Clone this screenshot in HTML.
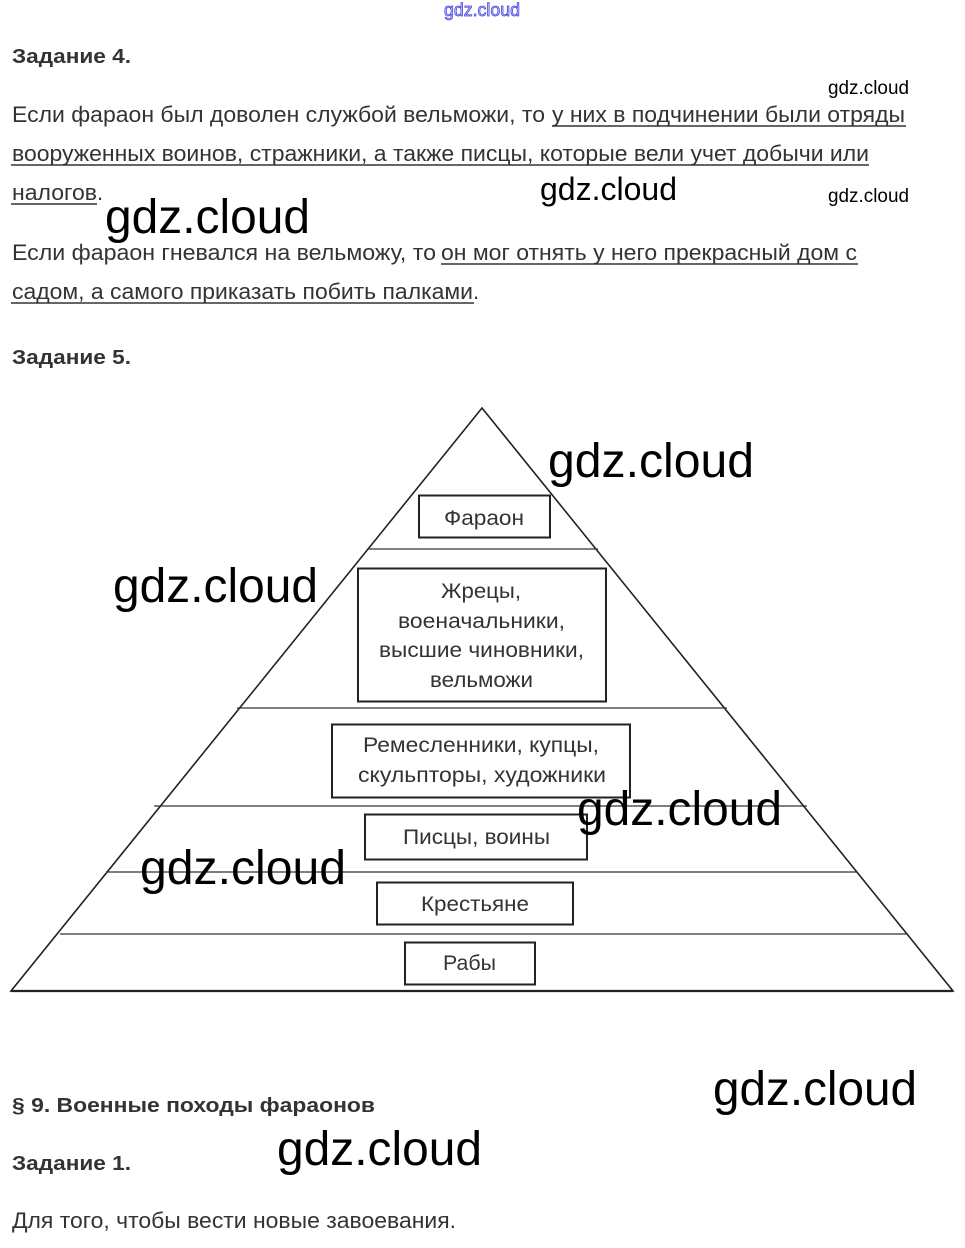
<!DOCTYPE html>
<html>
<head>
<meta charset="utf-8">
<style>
  html,body{margin:0;padding:0;background:#fff;}
  svg{display:block;}
  .t{font-family:"Liberation Sans",Arial,sans-serif;fill:#333;}
  .b{font-weight:bold;}
  .w{font-family:"Liberation Sans",Arial,sans-serif;fill:#000;}
</style>
</head>
<body>
<svg width="965" height="1248" viewBox="0 0 965 1248" xmlns="http://www.w3.org/2000/svg">
  <rect width="965" height="1248" fill="#fff"/>

  <!-- top blue watermark -->
  <text x="444" y="16" font-size="18" textLength="76" lengthAdjust="spacingAndGlyphs" font-family="Liberation Sans, Arial, sans-serif" fill="#c8c8ff" stroke="#4a4ae0" stroke-width="0.8">gdz.cloud</text>

  <!-- Задание 4 -->
  <text class="t b" x="12" y="63" font-size="20" textLength="119" lengthAdjust="spacingAndGlyphs">Задание 4.</text>

  <!-- paragraph 1 -->
  <text class="t" x="12" y="122" font-size="22" textLength="533" lengthAdjust="spacingAndGlyphs">Если фараон был доволен службой вельможи, то</text>
  <text class="t" x="552" y="122" font-size="22" textLength="353" lengthAdjust="spacingAndGlyphs">у них в подчинении были отряды</text>
  <line x1="552" y1="126" x2="906" y2="126" stroke="#333" stroke-width="1.6"/>

  <text class="t" x="12" y="161" font-size="22" textLength="857" lengthAdjust="spacingAndGlyphs">вооруженных воинов, стражники, а также писцы, которые вели учет добычи или</text>
  <line x1="11" y1="165" x2="869" y2="165" stroke="#333" stroke-width="1.6"/>

  <text class="t" x="12" y="200" font-size="22" textLength="85" lengthAdjust="spacingAndGlyphs">налогов</text>
  <text class="t" x="97" y="200" font-size="22">.</text>
  <line x1="11" y1="204" x2="97" y2="204" stroke="#333" stroke-width="1.6"/>

  <!-- paragraph 2 -->
  <text class="t" x="12" y="260" font-size="22" textLength="424" lengthAdjust="spacingAndGlyphs">Если фараон гневался на вельможу, то</text>
  <text class="t" x="441" y="260" font-size="22" textLength="416" lengthAdjust="spacingAndGlyphs">он мог отнять у него прекрасный дом с</text>
  <line x1="441" y1="264" x2="858" y2="264" stroke="#333" stroke-width="1.6"/>

  <text class="t" x="12" y="299" font-size="22" textLength="461" lengthAdjust="spacingAndGlyphs">садом, а самого приказать побить палками</text>
  <text class="t" x="473" y="299" font-size="22">.</text>
  <line x1="11" y1="303" x2="474" y2="303" stroke="#333" stroke-width="1.6"/>

  <!-- Задание 5 -->
  <text class="t b" x="12" y="364" font-size="20" textLength="119" lengthAdjust="spacingAndGlyphs">Задание 5.</text>

  <!-- pyramid -->
  <polygon points="482,408 11,991 953,991" fill="none" stroke="#222" stroke-width="1.6"/>
  <line x1="11" y1="991" x2="953" y2="991" stroke="#222" stroke-width="2.2"/>
  <g stroke="#333" stroke-width="1.2">
    <line x1="368" y1="549" x2="598" y2="549"/>
    <line x1="237" y1="708" x2="727" y2="708"/>
    <line x1="154" y1="806" x2="807" y2="806"/>
    <line x1="106" y1="872" x2="857" y2="872"/>
    <line x1="60" y1="934" x2="908" y2="934"/>
  </g>

  <!-- boxes -->
  <g fill="#fff" stroke="#222" stroke-width="2">
    <rect x="419" y="495.5" width="131" height="42"/>
    <rect x="358" y="568.5" width="248" height="133"/>
    <rect x="332" y="724.5" width="298" height="73"/>
    <rect x="365" y="814.5" width="222" height="45"/>
    <rect x="377" y="882.5" width="196" height="42"/>
    <rect x="405" y="942.5" width="130" height="42"/>
  </g>

  <g class="t" font-size="21">
    <text x="444" y="525" textLength="80" lengthAdjust="spacingAndGlyphs">Фараон</text>
    <text x="441" y="598" textLength="80" lengthAdjust="spacingAndGlyphs">Жрецы,</text>
    <text x="398" y="628" textLength="167" lengthAdjust="spacingAndGlyphs">военачальники,</text>
    <text x="379" y="657" textLength="205" lengthAdjust="spacingAndGlyphs">высшие чиновники,</text>
    <text x="430" y="687" textLength="103" lengthAdjust="spacingAndGlyphs">вельможи</text>
    <text x="363" y="752" textLength="236" lengthAdjust="spacingAndGlyphs">Ремесленники, купцы,</text>
    <text x="358" y="782" textLength="248" lengthAdjust="spacingAndGlyphs">скульпторы, художники</text>
    <text x="403" y="844" textLength="147" lengthAdjust="spacingAndGlyphs">Писцы, воины</text>
    <text x="421" y="911" textLength="108" lengthAdjust="spacingAndGlyphs">Крестьяне</text>
    <text x="443" y="970" textLength="53" lengthAdjust="spacingAndGlyphs">Рабы</text>
  </g>

  <!-- bottom section -->
  <text class="t b" x="12" y="1112" font-size="20" textLength="363" lengthAdjust="spacingAndGlyphs">§ 9. Военные походы фараонов</text>
  <text class="t b" x="12" y="1170" font-size="20" textLength="119" lengthAdjust="spacingAndGlyphs">Задание 1.</text>
  <text class="t" x="12" y="1228" font-size="22" textLength="444" lengthAdjust="spacingAndGlyphs">Для того, чтобы вести новые завоевания.</text>

  <!-- watermarks -->
  <g class="w">
    <text x="828" y="94" font-size="19" textLength="81" lengthAdjust="spacingAndGlyphs">gdz.cloud</text>
    <text x="828" y="202" font-size="19" textLength="81" lengthAdjust="spacingAndGlyphs">gdz.cloud</text>
    <text x="540" y="200" font-size="32" textLength="137" lengthAdjust="spacingAndGlyphs">gdz.cloud</text>
    <text x="105" y="233" font-size="48" textLength="205" lengthAdjust="spacingAndGlyphs">gdz.cloud</text>
    <text x="548" y="477" font-size="48" textLength="206" lengthAdjust="spacingAndGlyphs">gdz.cloud</text>
    <text x="113" y="602" font-size="48" textLength="205" lengthAdjust="spacingAndGlyphs">gdz.cloud</text>
    <text x="577" y="825" font-size="48" textLength="205" lengthAdjust="spacingAndGlyphs">gdz.cloud</text>
    <text x="140" y="884" font-size="48" textLength="206" lengthAdjust="spacingAndGlyphs">gdz.cloud</text>
    <text x="713" y="1105" font-size="48" textLength="204" lengthAdjust="spacingAndGlyphs">gdz.cloud</text>
    <text x="277" y="1165" font-size="48" textLength="205" lengthAdjust="spacingAndGlyphs">gdz.cloud</text>
  </g>
</svg>
</body>
</html>
